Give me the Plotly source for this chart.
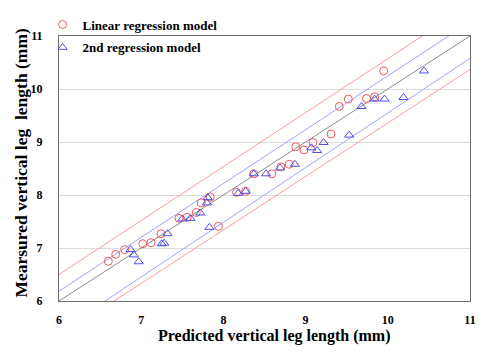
import plotly.graph_objects as go
import numpy as np

# Linear regression model: predicted vs measured
lin_pred = [6.60, 6.69, 6.80, 7.02, 7.12, 7.24, 7.46, 7.56, 7.67, 7.73, 7.84, 7.94, 8.16, 8.27,
            8.37, 8.59, 8.70, 8.80, 8.88, 8.98, 9.09, 9.31, 9.41, 9.52, 9.74, 9.84, 9.95]
lin_meas = [6.75, 6.88, 6.97, 7.08, 7.10, 7.27, 7.56, 7.58, 7.67, 7.85, 7.96, 7.41, 8.05, 8.07,
            8.40, 8.40, 8.53, 8.58, 8.91, 8.85, 8.99, 9.15, 9.67, 9.81, 9.82, 9.85, 10.34]

# 2nd regression model
sec_pred = [6.87, 6.91, 6.97, 7.25, 7.28, 7.32, 7.50, 7.60, 7.72, 7.80, 7.81, 7.83, 8.18, 8.27,
            8.37, 8.52, 8.69, 8.87, 9.07, 9.14, 9.22, 9.53, 9.68, 9.84, 9.96, 10.19, 10.44]
sec_meas = [6.97, 6.87, 6.74, 7.08, 7.09, 7.27, 7.55, 7.56, 7.66, 7.85, 7.95, 7.39, 8.03, 8.07,
            8.40, 8.40, 8.51, 8.58, 8.89, 8.84, 8.99, 9.13, 9.67, 9.81, 9.81, 9.84, 10.34]

# Reference lines (slope, intercept)
line_names = ["linear upper", "2nd upper", "identity", "2nd lower", "linear lower"]
line_slopes = [1.018, 1.0156, 1.0, 1.0315, 1.009]
line_intercepts = [0.392, 0.092, 0.0, -0.767, -0.731]
line_x = [6, 11]

x_ticks = [6, 7, 8, 9, 10, 11]
y_ticks = [6, 7, 8, 9, 10, 11]

line_colors = ["#ff9a9a", "#a0a0ff", "#8c8c8c", "#a0a0ff", "#ff9a9a"]

FONT = "Liberation Serif"

fig = go.Figure()
for name, s, b, c in zip(line_names, line_slopes, line_intercepts, line_colors):
    xs = np.array(line_x, dtype=float)
    fig.add_trace(go.Scatter(x=xs, y=s * xs + b, mode="lines", name=name,
                             line=dict(color=c, width=1), showlegend=False, hoverinfo="skip"))

fig.add_trace(go.Scatter(x=lin_pred, y=lin_meas, mode="markers", name="Linear regression model",
                         legendgroup="a",
                         marker=dict(symbol="circle-open", size=8, color="#f05a5a", line=dict(width=1))))
fig.add_trace(go.Scatter(x=sec_pred, y=sec_meas, mode="markers", name="2nd regression model",
                         legendgroup="b",
                         marker=dict(symbol="triangle-up-open", size=8, color="#5050e6", line=dict(width=1))))

fig.update_layout(
    width=485, height=352,
    margin=dict(l=59, r=9, t=15, b=51),
    plot_bgcolor="white", paper_bgcolor="white",
    font=dict(family=FONT, color="black"),
    hovermode=False,
    showlegend=True,
    legend=dict(x=-0.040, y=1.1, xanchor="left", yanchor="top", bgcolor="rgba(0,0,0,0)",
                font=dict(family=FONT, size=13, color="black", weight="bold"),
                itemwidth=30, tracegroupgap=3, traceorder="grouped"),
    xaxis=dict(range=[6, 11], tickvals=x_ticks, ticktext=[str(t) for t in x_ticks],
               showgrid=False, zeroline=False, showline=True, linecolor="#6e6e6e", linewidth=1,
               mirror=True, ticks="", ticklabelstandoff=8,
               tickfont=dict(family=FONT, size=12, color="black", weight="bold")),
    yaxis=dict(range=[6, 11], tickvals=y_ticks, ticktext=[str(t) for t in y_ticks],
               showgrid=True, gridcolor="#dcdcdc", gridwidth=1, zeroline=False,
               showline=True, linecolor="#6e6e6e", linewidth=1, mirror=True, ticks="",
               ticklabelstandoff=13,
               tickfont=dict(family=FONT, size=12, color="black", weight="bold")),
    annotations=[
        dict(text="Predicted vertical leg length (mm)", xref="paper", yref="paper",
             x=0.524, y=-0.131, xanchor="center", yanchor="middle", showarrow=False,
             font=dict(family=FONT, size=16, color="black", weight="bold")),
        dict(text="Mearsured vertical leg  length (mm)", xref="paper", yref="paper",
             x=-0.092, y=0.523, xanchor="center", yanchor="middle", showarrow=False,
             textangle=-90,
             font=dict(family=FONT, size=17.5, color="black", weight="bold")),
    ],
)

# remove the default page margin so the figure sits at the window's top-left corner
fig.write_html("out.html", config={"displayModeBar": False},
               post_script="document.body.style.margin='0px';")
